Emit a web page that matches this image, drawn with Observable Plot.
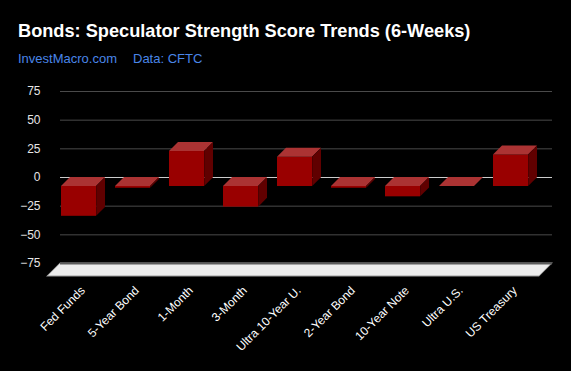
<!DOCTYPE html>
<html><head><meta charset="utf-8">
<script src="https://cdn.jsdelivr.net/npm/d3@7"></script>
<script src="https://cdn.jsdelivr.net/npm/@observablehq/plot@0.6"></script>
<style>
html,body{margin:0;padding:0;background:#000;}
#wrap{position:relative;width:571px;height:371px;background:#000;overflow:hidden;font-family:"Liberation Sans",Arial,sans-serif;}
#title{position:absolute;left:18px;top:22px;font-size:18.2px;line-height:18px;font-weight:bold;color:#fff;white-space:nowrap;}
.sub{position:absolute;top:52px;font-size:13px;line-height:13px;color:#4a86e8;white-space:nowrap;}
#chart{position:absolute;left:0;top:0;}
</style></head>
<body>
<div id="wrap">
  <div id="chart"></div>
  <div id="title">Bonds: Speculator Strength Score Trends (6-Weeks)</div>
  <div class="sub" style="left:18px">InvestMacro.com</div>
  <div class="sub" style="left:133px">Data: CFTC</div>
</div>
<script>
const categories = ["Fed Funds","5-Year Bond","1-Month","3-Month","Ultra 10-Year U.","2-Year Bond","10-Year Note","Ultra U.S.","US Treasury"];
const scores = [-26, -1.5, 30.5, -18, 25.5, -1.5, -9, 0, 27.5];
const yTicks = [-75, -50, -25, 0, 25, 50, 75];

const D = 9;
const FRONT = "#990000", TOP = "#ab3333", SIDE = "#600000", FLOOR = "#ececec";
const xOpts = {type: "band", domain: categories, range: [60, 552], paddingInner: 0.35, paddingOuter: 0.22, align: 0.4};
const bw = Plot.scale({x: xOpts}).bandwidth;
const data = categories.map((name, i) => ({name, value: scores[i]}));

const plot = Plot.plot({
  width: 571, height: 371,
  marginTop: 91, marginBottom: 108, marginLeft: 60, marginRight: 19,
  style: {background: "transparent", color: "#fff", fontFamily: "'Liberation Sans', Arial, sans-serif", fontSize: "12px"},
  x: {...xOpts, label: null},
  y: {domain: [-75, 75], label: null},
  marks: [
    Plot.ruleY(yTicks.filter(t => t !== 0 && t !== -75), {stroke: "#4a4a4a", strokeWidth: 1}),
    Plot.ruleY([0], {stroke: "#cccccc"}),
    Plot.rect([0], {y1: -75, y2: -75, insetBottom: -13, fill: FLOOR, stroke: "#9a9a9a", strokeWidth: 1}),
    Plot.ruleY([-75], {stroke: "#5a5a5a", strokeWidth: 2}),
    Plot.barY(data, {x: "name", y: "value", fill: FRONT, dx: -D, dy: D}),
    Plot.barY(data, {x: "name", y1: d => Math.max(0, d.value), y2: d => Math.max(0, d.value), insetTop: -D, fill: TOP, dx: -D, dy: D}),
    Plot.barY(data, {x: "name", y: "value", insetLeft: bw, insetRight: -D, fill: SIDE, dx: -D, dy: D}),
    Plot.axisY({ticks: yTicks, tickSize: 0, tickPadding: 20, fill: "#e6e6e6", fontSize: 12, label: null}),
    Plot.axisX({tickRotate: -45, tickSize: 0, tickPadding: 25, fill: "#fff", fontSize: 12, dx: -5, label: null})
  ]
});

const sel = d3.select(plot);
sel.selectAll(`g[fill="${TOP}"] rect`).attr("transform", function() {
  const yb = +this.getAttribute("y") + +this.getAttribute("height");
  return `translate(0,${yb}) skewX(-45) translate(0,${-yb})`;
});
sel.selectAll(`g[fill="${SIDE}"] rect`).attr("transform", function() {
  const xl = +this.getAttribute("x");
  return `translate(${xl},0) skewY(-45) translate(${-xl},0)`;
});
sel.selectAll(`g[fill="${FLOOR}"] rect`).attr("transform", function() {
  const yt = +this.getAttribute("y");
  return `translate(0,${yt}) skewX(-45) translate(0,${-yt})`;
});
document.getElementById("chart").appendChild(plot);
</script>
</body></html>
